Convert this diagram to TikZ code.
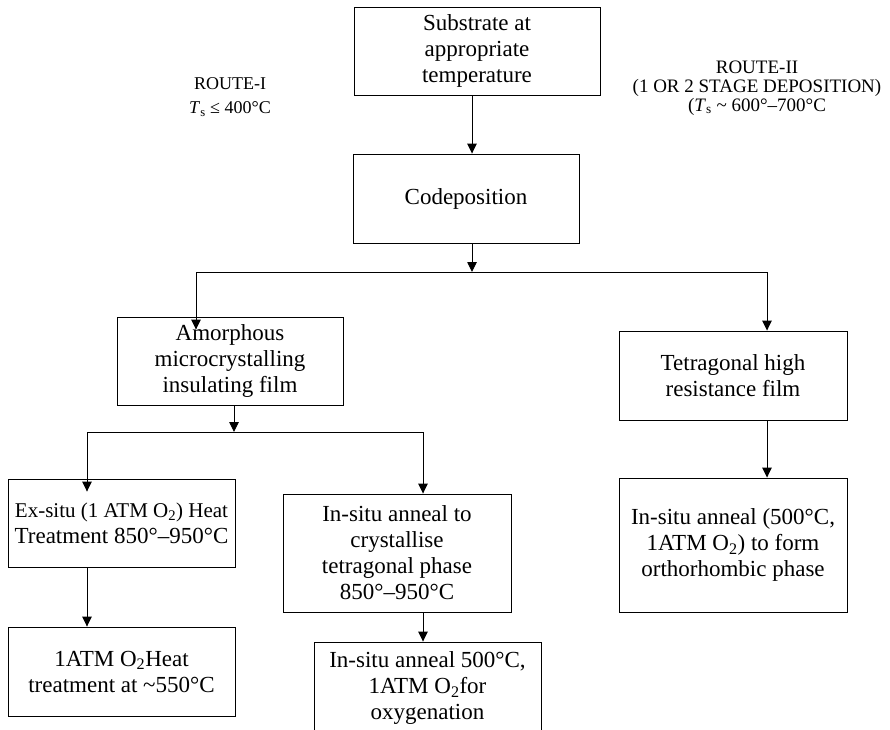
\documentclass[tikz,border=0pt]{standalone}
\usepackage{fontspec}
\setmainfont{Liberation Serif}
\usetikzlibrary{arrows.meta}
\begin{document}
\begin{tikzpicture}[x=1pt,y=-1pt,
  box/.style={draw, line width=0.9pt, inner sep=0pt, align=center, font=\fontsize{23}{26}\selectfont},
  conn/.style={line width=0.9pt},
  arr/.style={conn, -{Triangle[length=10pt,width=9.5pt]}},
  lab/.style={align=center, inner sep=0pt}]
\useasboundingbox (0,0) rectangle (890,729);
\clip (0,0) rectangle (890,729);
% boxes
\node[box, minimum width=246pt, minimum height=88pt] (sub) at (477,51) {Substrate at\\appropriate\\temperature};
\node[box, minimum width=226pt, minimum height=89pt] (cod) at (466,198.5) {Codeposition};
\node[box, minimum width=226pt, minimum height=88pt] (amo) at (230,361) {Amorphous\\microcrystalling\\insulating film};
\node[box, minimum width=228pt, minimum height=89pt] (tet) at (733,375.5) {Tetragonal high\\resistance film};
\node[box, minimum width=227pt, minimum height=88pt] (exs) at (121.5,523) {{\fontsize{21}{26}\selectfont Ex-situ (1 ATM O\textsubscript{2}) Heat}\\Treatment 850°–950°C};
\node[box, minimum width=228pt, minimum height=118pt] (ins) at (397,553) {In-situ anneal to\\crystallise\\tetragonal phase\\850°–950°C};
\node[box, minimum width=228pt, minimum height=134pt] (orth) at (733,545) {In-situ anneal (500°C,\\1ATM O\textsubscript{2}) to form\\orthorhombic phase};
\node[box, minimum width=227pt, minimum height=89pt] (atm) at (121.5,671.5) {1ATM O\textsubscript{2}Heat\\treatment at \textasciitilde550°C};
\node[box, minimum width=227pt, minimum height=92pt] (oxy) at (427.5,688) {In-situ anneal 500°C,\\1ATM O\textsubscript{2}for\\oxygenation};
% labels
\node[lab, font=\fontsize{18}{24}\selectfont] (r1) at (230,97) {ROUTE-I\\\textit{T}\textsubscript{s} ≤ 400°C};
\node[lab, font=\fontsize{19}{19}\selectfont] (r2) at (757,88) {ROUTE-II\\(1 OR 2 STAGE DEPOSITION)\\(\textit{T}\textsubscript{s} \textasciitilde{} 600°–700°C};
% connector coordinates
\coordinate (xa) at (472,0);
\coordinate (j1) at (472,272);
\coordinate (j1l) at (196,272);
\coordinate (j1r) at (767,272);
\coordinate (xb) at (234,0);
\coordinate (j2) at (234,432);
\coordinate (j2l) at (87,432);
\coordinate (j2r) at (423,432);
% connectors
\draw[arr] (sub.south -| xa) -- (cod.north -| xa);
\draw[arr] (cod.south -| xa) -- (j1);
\draw[conn] (j1l) -- (j1r);
\draw[arr] (j1l) -- ([yshift=-13pt]amo.north -| j1l);
\draw[arr] (j1r) -- (tet.north -| j1r);
\draw[arr] (amo.south -| xb) -- (j2);
\draw[conn] (j2l) -- (j2r);
\draw[arr] (j2l) -- ([yshift=-13pt]exs.north -| j2l);
\draw[arr] (j2r) -- (ins.north -| j2r);
\draw[arr] (exs.south -| j2l) -- (atm.north -| j2l);
\draw[arr] (ins.south -| j2r) -- (oxy.north -| j2r);
\draw[arr] (tet.south -| j1r) -- (orth.north -| j1r);
\end{tikzpicture}
\end{document}
